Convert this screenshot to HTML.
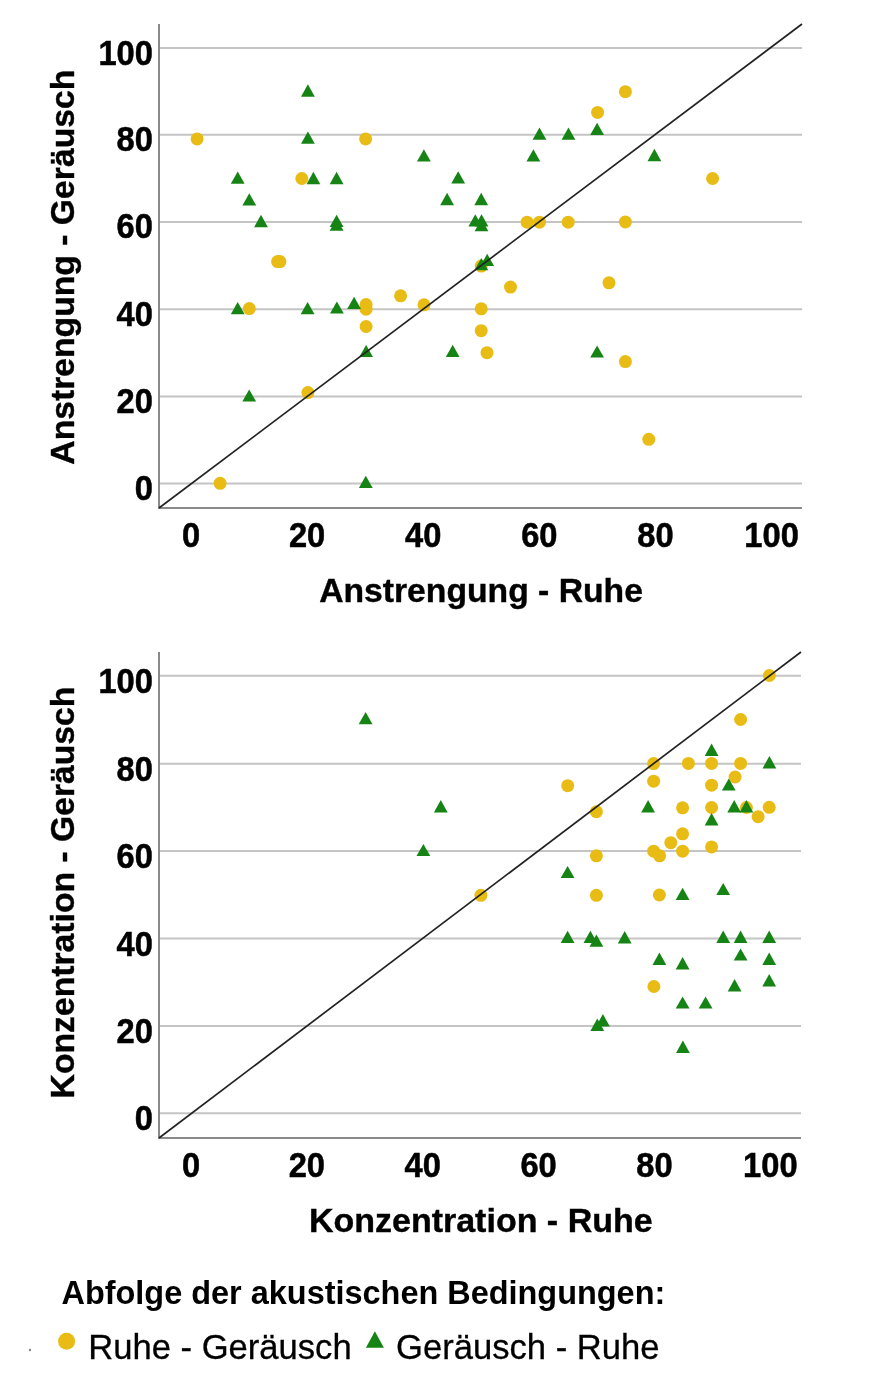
<!DOCTYPE html>
<html><head><meta charset="utf-8"><style>
html,body{margin:0;padding:0;background:#fff;}
body{width:872px;height:1387px;overflow:hidden;}
svg{display:block;filter:blur(0.45px);}
text{font-family:"Liberation Sans",sans-serif;fill:#000;}
.tk{font-size:33px;font-weight:bold;stroke:#000;stroke-width:0.5px;}
.tt{font-size:33.7px;font-weight:bold;stroke:#000;stroke-width:0.4px;}
.lt{font-size:32.45px;font-weight:bold;}
.li{font-size:34.6px;stroke:#000;stroke-width:0.3px;}
.tt2{font-size:34px;font-weight:bold;stroke:#000;stroke-width:0.4px;}
</style></head><body>
<svg width="872" height="1387" viewBox="0 0 872 1387">
<rect width="872" height="1387" fill="#fff"/>
<line x1="160" y1="48.1" x2="802" y2="48.1" stroke="#c4c4c4" stroke-width="2"/>
<line x1="160" y1="134.8" x2="802" y2="134.8" stroke="#c4c4c4" stroke-width="2"/>
<line x1="160" y1="222.0" x2="802" y2="222.0" stroke="#c4c4c4" stroke-width="2"/>
<line x1="160" y1="309.3" x2="802" y2="309.3" stroke="#c4c4c4" stroke-width="2"/>
<line x1="160" y1="396.6" x2="802" y2="396.6" stroke="#c4c4c4" stroke-width="2"/>
<line x1="160" y1="483.5" x2="802" y2="483.5" stroke="#c4c4c4" stroke-width="2"/>
<line x1="159" y1="24" x2="159" y2="509" stroke="#8a8a8a" stroke-width="2"/>
<line x1="158" y1="508" x2="802" y2="508" stroke="#8a8a8a" stroke-width="2"/>
<g fill="#e8bc14"><circle cx="197.1" cy="138.9" r="6.5"/><circle cx="365.6" cy="138.9" r="6.5"/><circle cx="301.8" cy="178.5" r="6.5"/><circle cx="277.6" cy="261.6" r="6.5"/><circle cx="279.9" cy="261.6" r="6.5"/><circle cx="249.3" cy="308.6" r="6.5"/><circle cx="366.1" cy="304.5" r="6.5"/><circle cx="366.1" cy="309.2" r="6.5"/><circle cx="400.6" cy="295.8" r="6.5"/><circle cx="424.0" cy="304.8" r="6.5"/><circle cx="366.1" cy="326.5" r="6.5"/><circle cx="481.3" cy="266.1" r="6.5"/><circle cx="527.1" cy="222.2" r="6.5"/><circle cx="539.5" cy="222.2" r="6.5"/><circle cx="568.2" cy="222.2" r="6.5"/><circle cx="510.5" cy="287.1" r="6.5"/><circle cx="481.2" cy="308.8" r="6.5"/><circle cx="481.2" cy="330.7" r="6.5"/><circle cx="487.0" cy="352.7" r="6.5"/><circle cx="625.4" cy="91.7" r="6.5"/><circle cx="597.6" cy="112.4" r="6.5"/><circle cx="712.6" cy="178.5" r="6.5"/><circle cx="625.4" cy="222.0" r="6.5"/><circle cx="609.0" cy="282.8" r="6.5"/><circle cx="625.4" cy="361.6" r="6.5"/><circle cx="648.8" cy="439.3" r="6.5"/><circle cx="307.9" cy="392.6" r="6.5"/><circle cx="220.1" cy="483.3" r="6.5"/></g><g fill="#158415"><path d="M307.9 84.3L314.8 96.7L301.0 96.7Z"/><path d="M307.9 131.5L314.8 143.8L301.0 143.8Z"/><path d="M237.7 171.4L244.6 183.8L230.8 183.8Z"/><path d="M313.4 171.8L320.3 184.2L306.5 184.2Z"/><path d="M336.6 171.8L343.5 184.2L329.7 184.2Z"/><path d="M249.3 193.2L256.2 205.6L242.4 205.6Z"/><path d="M261.0 214.8L267.9 227.2L254.1 227.2Z"/><path d="M336.6 214.8L343.5 227.1L329.7 227.1Z"/><path d="M336.6 218.3L343.5 230.7L329.7 230.7Z"/><path d="M237.7 302.0L244.6 314.2L230.8 314.2Z"/><path d="M307.6 302.0L314.5 314.2L300.7 314.2Z"/><path d="M336.9 301.4L343.8 313.6L330.0 313.6Z"/><path d="M354.1 296.8L361.0 309.0L347.2 309.0Z"/><path d="M366.1 344.9L373.0 357.1L359.2 357.1Z"/><path d="M539.5 127.5L546.4 139.8L532.6 139.8Z"/><path d="M568.5 127.5L575.4 139.8L561.6 139.8Z"/><path d="M423.9 149.2L430.8 161.5L417.0 161.5Z"/><path d="M533.4 149.2L540.3 161.5L526.5 161.5Z"/><path d="M458.2 171.2L465.1 183.5L451.3 183.5Z"/><path d="M447.1 192.8L454.0 205.2L440.2 205.2Z"/><path d="M481.2 192.8L488.1 205.2L474.3 205.2Z"/><path d="M475.3 214.2L482.2 226.6L468.4 226.6Z"/><path d="M481.5 214.2L488.4 226.6L474.6 226.6Z"/><path d="M481.5 219.0L488.4 231.3L474.6 231.3Z"/><path d="M481.3 258.1L488.2 270.3L474.4 270.3Z"/><path d="M487.2 253.7L494.1 265.9L480.3 265.9Z"/><path d="M452.7 344.8L459.6 357.0L445.8 357.0Z"/><path d="M597.1 122.7L604.0 135.0L590.2 135.0Z"/><path d="M654.4 148.8L661.3 161.2L647.5 161.2Z"/><path d="M597.1 345.4L604.0 357.6L590.2 357.6Z"/><path d="M249.2 389.4L256.1 401.6L242.3 401.6Z"/><path d="M365.8 475.7L372.7 487.9L358.9 487.9Z"/></g>
<line x1="159" y1="508" x2="802" y2="24" stroke="#222" stroke-width="1.7"/>
<text class="tk" transform="translate(152.90,64.50) scale(0.99,1.07)" text-anchor="end">100</text>
<text class="tk" transform="translate(152.90,151.20) scale(0.99,1.07)" text-anchor="end">80</text>
<text class="tk" transform="translate(152.90,238.40) scale(0.99,1.07)" text-anchor="end">60</text>
<text class="tk" transform="translate(152.90,325.70) scale(0.99,1.07)" text-anchor="end">40</text>
<text class="tk" transform="translate(152.90,413.00) scale(0.99,1.07)" text-anchor="end">20</text>
<text class="tk" transform="translate(152.90,499.90) scale(0.99,1.07)" text-anchor="end">0</text>
<text class="tk" transform="translate(191.00,546.50) scale(0.99,1.07)" text-anchor="middle">0</text>
<text class="tk" transform="translate(307.12,546.50) scale(0.99,1.07)" text-anchor="middle">20</text>
<text class="tk" transform="translate(423.24,546.50) scale(0.99,1.07)" text-anchor="middle">40</text>
<text class="tk" transform="translate(539.36,546.50) scale(0.99,1.07)" text-anchor="middle">60</text>
<text class="tk" transform="translate(655.48,546.50) scale(0.99,1.07)" text-anchor="middle">80</text>
<text class="tk" transform="translate(771.60,546.50) scale(0.99,1.07)" text-anchor="middle">100</text>
<text class="tt" transform="translate(481.00,602.20) scale(1.0,1.0)" text-anchor="middle">Anstrengung - Ruhe</text>
<text class="tt" transform="translate(74.10,267.20) rotate(-90) scale(1.0,1.0)" text-anchor="middle">Anstrengung - Geräusch</text>
<line x1="160" y1="675.7" x2="801" y2="675.7" stroke="#c4c4c4" stroke-width="2"/>
<line x1="160" y1="763.7" x2="801" y2="763.7" stroke="#c4c4c4" stroke-width="2"/>
<line x1="160" y1="851.0" x2="801" y2="851.0" stroke="#c4c4c4" stroke-width="2"/>
<line x1="160" y1="938.6" x2="801" y2="938.6" stroke="#c4c4c4" stroke-width="2"/>
<line x1="160" y1="1026.1" x2="801" y2="1026.1" stroke="#c4c4c4" stroke-width="2"/>
<line x1="160" y1="1113.3" x2="801" y2="1113.3" stroke="#c4c4c4" stroke-width="2"/>
<line x1="159" y1="652" x2="159" y2="1139" stroke="#8a8a8a" stroke-width="2"/>
<line x1="158" y1="1138" x2="801" y2="1138" stroke="#8a8a8a" stroke-width="2"/>
<g fill="#e8bc14"><circle cx="480.9" cy="895.3" r="6.5"/><circle cx="596.4" cy="895.3" r="6.5"/><circle cx="769.4" cy="675.5" r="6.5"/><circle cx="740.6" cy="719.5" r="6.5"/><circle cx="653.6" cy="763.6" r="6.5"/><circle cx="688.4" cy="763.4" r="6.5"/><circle cx="711.6" cy="763.4" r="6.5"/><circle cx="740.6" cy="763.4" r="6.5"/><circle cx="653.6" cy="781.2" r="6.5"/><circle cx="735.1" cy="777.0" r="6.5"/><circle cx="711.6" cy="785.2" r="6.5"/><circle cx="596.4" cy="811.7" r="6.5"/><circle cx="682.6" cy="807.8" r="6.5"/><circle cx="711.6" cy="807.5" r="6.5"/><circle cx="746.4" cy="807.5" r="6.5"/><circle cx="769.2" cy="807.3" r="6.5"/><circle cx="758.1" cy="816.7" r="6.5"/><circle cx="682.6" cy="833.8" r="6.5"/><circle cx="670.8" cy="842.7" r="6.5"/><circle cx="711.6" cy="846.9" r="6.5"/><circle cx="653.6" cy="851.2" r="6.5"/><circle cx="659.6" cy="855.8" r="6.5"/><circle cx="682.6" cy="851.2" r="6.5"/><circle cx="596.4" cy="855.8" r="6.5"/><circle cx="659.4" cy="895.0" r="6.5"/><circle cx="653.9" cy="986.5" r="6.5"/><circle cx="567.7" cy="785.7" r="6.5"/></g><g fill="#158415"><path d="M365.6 712.0L372.5 724.2L358.7 724.2Z"/><path d="M440.8 800.1L447.7 812.4L433.9 812.4Z"/><path d="M423.4 843.9L430.3 856.1L416.5 856.1Z"/><path d="M567.6 865.9L574.5 878.1L560.7 878.1Z"/><path d="M567.6 930.8L574.5 943.0L560.7 943.0Z"/><path d="M590.4 930.8L597.3 943.0L583.5 943.0Z"/><path d="M596.4 934.5L603.3 946.8L589.5 946.8Z"/><path d="M624.7 931.1L631.6 943.4L617.8 943.4Z"/><path d="M711.6 743.6L718.5 755.9L704.7 755.9Z"/><path d="M769.4 756.1L776.3 768.4L762.5 768.4Z"/><path d="M728.8 778.4L735.7 790.6L721.9 790.6Z"/><path d="M648.1 800.1L655.0 812.4L641.2 812.4Z"/><path d="M711.6 813.1L718.5 825.4L704.7 825.4Z"/><path d="M734.2 800.1L741.1 812.4L727.3 812.4Z"/><path d="M746.4 800.1L753.3 812.4L739.5 812.4Z"/><path d="M682.6 887.8L689.5 900.0L675.7 900.0Z"/><path d="M723.2 882.9L730.1 895.1L716.3 895.1Z"/><path d="M723.2 930.6L730.1 942.9L716.3 942.9Z"/><path d="M740.6 930.6L747.5 942.9L733.7 942.9Z"/><path d="M769.2 930.6L776.1 942.9L762.3 942.9Z"/><path d="M659.4 952.6L666.3 964.9L652.5 964.9Z"/><path d="M682.6 957.1L689.5 969.4L675.7 969.4Z"/><path d="M740.6 948.4L747.5 960.6L733.7 960.6Z"/><path d="M769.2 952.6L776.1 964.9L762.3 964.9Z"/><path d="M734.6 979.1L741.5 991.4L727.7 991.4Z"/><path d="M769.2 974.1L776.1 986.4L762.3 986.4Z"/><path d="M682.6 996.4L689.5 1008.6L675.7 1008.6Z"/><path d="M705.6 996.4L712.5 1008.6L698.7 1008.6Z"/><path d="M597.3 1018.6L604.2 1031.0L590.4 1031.0Z"/><path d="M602.9 1014.1L609.8 1026.5L596.0 1026.5Z"/><path d="M682.9 1040.6L689.8 1053.0L676.0 1053.0Z"/></g>
<line x1="159" y1="1138" x2="801" y2="652" stroke="#222" stroke-width="1.7"/>
<text class="tk" transform="translate(152.90,692.60) scale(0.99,1.07)" text-anchor="end">100</text>
<text class="tk" transform="translate(152.90,780.60) scale(0.99,1.07)" text-anchor="end">80</text>
<text class="tk" transform="translate(152.90,867.90) scale(0.99,1.07)" text-anchor="end">60</text>
<text class="tk" transform="translate(152.90,955.50) scale(0.99,1.07)" text-anchor="end">40</text>
<text class="tk" transform="translate(152.90,1043.00) scale(0.99,1.07)" text-anchor="end">20</text>
<text class="tk" transform="translate(152.90,1130.20) scale(0.99,1.07)" text-anchor="end">0</text>
<text class="tk" transform="translate(191.00,1176.50) scale(0.99,1.07)" text-anchor="middle">0</text>
<text class="tk" transform="translate(306.86,1176.50) scale(0.99,1.07)" text-anchor="middle">20</text>
<text class="tk" transform="translate(422.72,1176.50) scale(0.99,1.07)" text-anchor="middle">40</text>
<text class="tk" transform="translate(538.58,1176.50) scale(0.99,1.07)" text-anchor="middle">60</text>
<text class="tk" transform="translate(654.44,1176.50) scale(0.99,1.07)" text-anchor="middle">80</text>
<text class="tk" transform="translate(770.30,1176.50) scale(0.99,1.07)" text-anchor="middle">100</text>
<text class="tt2" transform="translate(480.75,1232.30) scale(1.0,1.0)" text-anchor="middle">Konzentration - Ruhe</text>
<text class="tt" transform="translate(74.40,892.50) rotate(-90) scale(1.0,1.0)" text-anchor="middle">Konzentration - Geräusch</text>

<text class="lt" transform="translate(61.50,1303.90) scale(1.0,1.04)" text-anchor="start">Abfolge der akustischen Bedingungen:</text>
<circle cx="66.6" cy="1341.2" r="8.5" fill="#e8bc14"/>
<text class="li" transform="translate(88.30,1359.20) scale(1.0,1.04)" text-anchor="start">Ruhe - Geräusch</text>
<path d="M374.9 1331.2L383.9 1347.8L365.9 1347.8Z" fill="#158415"/>
<text class="li" transform="translate(396.10,1358.70) scale(1.0,1.04)" text-anchor="start">Geräusch - Ruhe</text>
<circle cx="30" cy="1350" r="1.2" fill="#888"/>

</svg>
</body></html>
